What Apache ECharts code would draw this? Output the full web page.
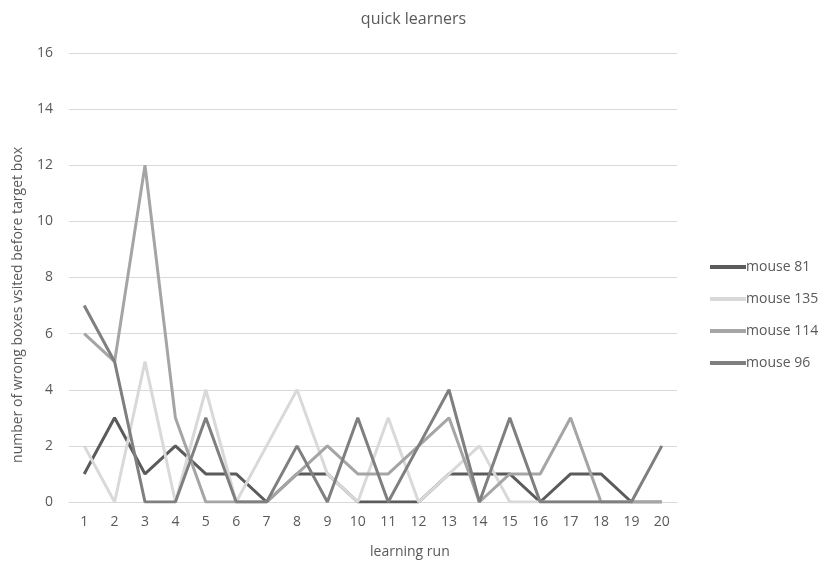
<!DOCTYPE html>
<html>
<head>
<meta charset="utf-8">
<script src="https://cdn.jsdelivr.net/npm/echarts@6/dist/echarts.min.js"></script>
<style>html,body{margin:0;padding:0;background:#fff}#c{width:827px;height:565px}</style>
</head>
<body>
<div id="c"></div>
<script>
const categories = ['1','2','3','4','5','6','7','8','9','10','11','12','13','14','15','16','17','18','19','20'];
const mouse81  = [1,3,1,2,1,1,0,1,1,0,0,0,1,1,1,0,1,1,0,0];
const mouse135 = [2,0,5,0,4,0,2,4,1,0,3,0,1,2,0,0,0,0,0,0];
const mouse114 = [6,5,12,3,0,0,0,1,2,1,1,2,3,0,1,1,3,0,0,0];
const mouse96  = [7,5,0,0,3,0,0,2,0,3,0,2,4,0,3,0,0,0,0,2];
const seriesNames = ['mouse 81','mouse 135','mouse 114','mouse 96'];
const seriesColors = ['#5b5b5b','#d9d9d9','#a5a5a5','#7f7f7f'];
const seriesData = [mouse81, mouse135, mouse114, mouse96];

const FONT = 'Open Sans';
const chart = echarts.init(document.getElementById('c'), null, {renderer:'canvas'});
chart.setOption({
  animation:false,
  backgroundColor:'#fff',
  title:{text:'quick learners', left:'center', top:6,
    textStyle:{fontFamily:FONT, fontSize:16, fontWeight:'normal', color:'#595959'}},
  grid:{left:69, right:150, top:53, bottom:63},
  legend:{orient:'vertical', left:705, top:253, itemWidth:36, itemHeight:4, itemGap:14,
    icon:'rect', data:seriesNames,
    textStyle:{fontFamily:FONT, fontSize:14, color:'#595959', padding:[0,0,0,-5], lineHeight:18}},
  xAxis:{type:'category', data:categories, boundaryGap:true,
    axisLine:{lineStyle:{color:'#d9d9d9', width:1}}, axisTick:{show:false},
    axisLabel:{fontFamily:FONT, fontSize:14, color:'#595959', margin:13}},
  yAxis:{type:'value', min:0, max:16, interval:2,
    axisLine:{show:false}, axisTick:{show:false},
    splitLine:{lineStyle:{color:'#d9d9d9', width:1}},
    axisLabel:{fontFamily:FONT, fontSize:14, color:'#595959', margin:16}},
  graphic:[
    {type:'text', left:370, top:545, style:{text:'learning run', font:'14px "Open Sans"', fill:'#595959'}},
    {type:'text', x:18, y:305, rotation:Math.PI/2,
      style:{text:'number of wrong boxes vsited before target box', font:'14px "Open Sans"', fill:'#595959', align:'center', verticalAlign:'middle'}}
  ],
  series: seriesData.map((d,i)=>({
    name:seriesNames[i], type:'line', data:d, showSymbol:false, symbol:'none',
    lineStyle:{color:seriesColors[i], width:3}, itemStyle:{color:seriesColors[i]}, z:2+i
  }))
});
</script>
</body>
</html>
